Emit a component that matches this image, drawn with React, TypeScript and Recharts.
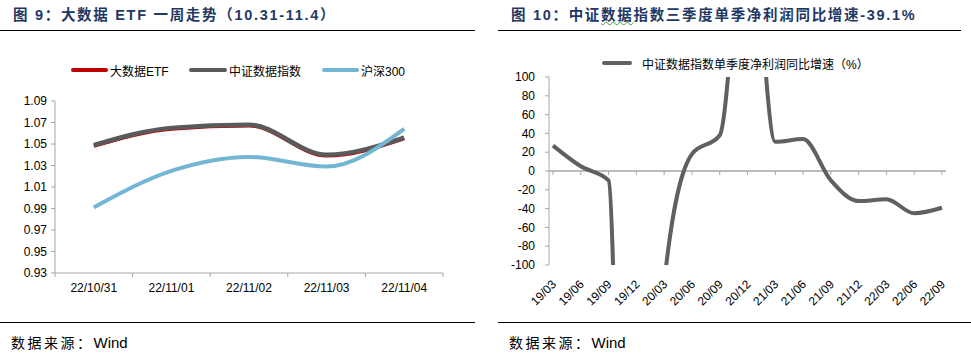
import { LineChart, Line, XAxis, YAxis, ReferenceLine } from 'recharts';

const weekDates = ['22/10/31', '22/11/01', '22/11/02', '22/11/03', '22/11/04'];
const etfValues = [1.048, 1.064, 1.067, 1.039, 1.055];
const indexValues = [1.049, 1.065, 1.068, 1.04, 1.056];
const hs300Values = [0.991, 1.025, 1.038, 1.029, 1.064];
const weekTicks = [0.93, 0.95, 0.97, 0.99, 1.01, 1.03, 1.05, 1.07, 1.09];

const quarters = ['19/03', '19/06', '19/09', '19/12', '20/03', '20/06', '20/09', '20/12', '21/03', '21/06', '21/09', '21/12', '22/03', '22/06', '22/09'];
const profitGrowth = [27, 5, -10, -1200, -120, 18, 38, 300, 31, 34, -10, -32, -30, -45, -39.1];
const growthTicks = [-100, -80, -60, -40, -20, 0, 20, 40, 60, 80, 100];

const weekData = weekDates.map((date, i) => ({
  date,
  etf: etfValues[i],
  index: indexValues[i],
  hs300: hs300Values[i],
}));
const growthData = quarters.map((q, i) => ({ q, value: profitGrowth[i] }));

const LATIN = '"Liberation Sans", Arial, "Noto Sans CJK SC", sans-serif';
const AXIS_GREY = '#a6a6a6';
const TITLE_BLUE = '#1f3864';

const LEFT_W = 475;
const LEFT_MARGIN = { top: 101, right: 32, bottom: 17, left: 10 };
const LEFT_YW = 45;
const bandW = (LEFT_W - LEFT_MARGIN.left - LEFT_MARGIN.right - LEFT_YW) / weekDates.length;

// label in the band centre, tick marks on the band edges (excel style)
const BandTick = (props: any) => {
  const { x, y, payload, index } = props;
  const axisY = y - 9;
  const last = index === weekDates.length - 1;
  return (
    <g>
      <line x1={x - bandW / 2} x2={x - bandW / 2} y1={axisY} y2={axisY + 4} stroke={AXIS_GREY} />
      {last && <line x1={x + bandW / 2} x2={x + bandW / 2} y1={axisY} y2={axisY + 4} stroke={AXIS_GREY} />}
      <text x={x} y={y + 1} dy="0.71em" textAnchor="middle" fontSize={12} fontFamily={LATIN} fill="#000">
        {payload.value}
      </text>
    </g>
  );
};

const SlantTick = (props: any) => {
  const { x, y, payload } = props;
  const ax = x + 4;
  const ay = y + 12;
  return (
    <text x={ax} y={ay} transform={`rotate(-45 ${ax} ${ay})`} textAnchor="end" fontSize={12} fontFamily={LATIN} fill="#000">
      {payload.value}
    </text>
  );
};

const LegendItem = ({ color, label, len, gap, left, top }: { color: string; label: string; len: number; gap: number; left: number; top: number }) => (
  <div style={{ position: 'absolute', left, top, display: 'flex', alignItems: 'center', height: 14 }}>
    <div style={{ width: len, height: 4, background: color, borderRadius: 2, marginRight: gap }} />
    <span style={{ fontSize: 12, fontFamily: LATIN, color: '#000', whiteSpace: 'nowrap' }}>{label}</span>
  </div>
);

const titleStyle = {
  position: 'absolute' as const,
  top: 7,
  fontSize: 14.5,
  lineHeight: '16px',
  fontWeight: 'bold' as const,
  letterSpacing: 1.7,
  color: TITLE_BLUE,
  fontFamily: LATIN,
  whiteSpace: 'nowrap' as const,
};

const sourceStyle = {
  position: 'absolute' as const,
  top: 335,
  fontSize: 14,
  lineHeight: '16px',
  color: '#000',
  fontFamily: LATIN,
  whiteSpace: 'nowrap' as const,
};

const Source = ({ left }: { left: number }) => (
  <div style={{ ...sourceStyle, left }}>
    <span style={{ letterSpacing: 2.5 }}>数据来源：</span>
    <span style={{ fontSize: 15 }}>Wind</span>
  </div>
);

export default function App() {
  return (
    <div style={{ position: 'absolute', left: 0, top: 0, width: 971, height: 358, background: '#fff', overflow: 'hidden' }}>
      <div style={{ ...titleStyle, left: 13 }}>图 9：大数据 ETF 一周走势（10.31-11.4）</div>
      <div style={{ ...titleStyle, left: 511 }}>
        图 10：中证<span style={{ textDecoration: 'underline wavy #3c9a3c', textDecorationThickness: 1 }}>数据</span>指数三季度单季净利润同比增速-39.1%
      </div>
      <div style={{ position: 'absolute', left: 0, top: 30, width: 475, height: 1, background: '#000' }} />
      <div style={{ position: 'absolute', left: 498, top: 30, width: 463, height: 1, background: '#000' }} />

      <LegendItem color="#c00000" label="大数据ETF" len={37} gap={2} left={71} top={63} />
      <LegendItem color="#5a5a5a" label="中证数据指数" len={38} gap={2} left={189} top={63} />
      <LegendItem color="#72b6d3" label="沪深300" len={37} gap={2} left={322} top={63} />
      <LegendItem color="#606060" label="中证数据指数单季度净利润同比增速（%）" len={30} gap={10} left={602} top={56} />

      <div style={{ position: 'absolute', left: 0, top: 0 }}>
        <LineChart width={LEFT_W} height={320} data={weekData} margin={LEFT_MARGIN}>
          <XAxis
            dataKey="date"
            scale="band"
            height={30}
            tickLine={false}
            tickSize={4}
            tickMargin={5}
            stroke={AXIS_GREY}
            tick={<BandTick />}
            interval={0}
          />
          <YAxis
            width={LEFT_YW}
            domain={[0.93, 1.09]}
            ticks={weekTicks}
            interval={0}
            tickFormatter={(v: number) => v.toFixed(2)}
            tickSize={4}
            tickMargin={4}
            stroke={AXIS_GREY}
            tick={{ fontSize: 12, fontFamily: LATIN, fill: '#000' }}
          />
          <Line type="monotone" dataKey="etf" stroke="#c00000" strokeWidth={3.5} dot={false} isAnimationActive={false} />
          <Line type="monotone" dataKey="index" stroke="#5a5a5a" strokeWidth={4.5} dot={false} isAnimationActive={false} />
          <Line type="monotone" dataKey="hs300" stroke="#72b6d3" strokeWidth={4} dot={false} isAnimationActive={false} />
        </LineChart>
      </div>

      <div style={{ position: 'absolute', left: 485, top: 0 }}>
        <LineChart width={486} height={320} data={growthData} margin={{ top: 77, right: 25, bottom: 10, left: 14 }}>
          <XAxis
            dataKey="q"
            height={45}
            axisLine={false}
            tickLine={false}
            tickSize={6}
            tickMargin={2}
            interval={0}
            padding={{ left: 4, right: 4 }}
            tick={<SlantTick />}
          />
          <YAxis
            width={50}
            domain={[-100, 100]}
            ticks={growthTicks}
            interval={0}
            allowDataOverflow
            tickSize={4}
            tickMargin={10}
            stroke={AXIS_GREY}
            tick={{ fontSize: 12, fontFamily: LATIN, fill: '#000' }}
          />
          <ReferenceLine y={0} stroke={AXIS_GREY} strokeWidth={1.5} />
          {quarters.map((q) => (
            <ReferenceLine key={q} segment={[{ x: q, y: 0 }, { x: q, y: -4.3 }]} stroke={AXIS_GREY} />
          ))}
          <Line type="monotone" dataKey="value" stroke="#606060" strokeWidth={4} dot={false} isAnimationActive={false} />
        </LineChart>
      </div>

      <div style={{ position: 'absolute', left: 0, top: 322, width: 475, height: 1, background: '#000' }} />
      <div style={{ position: 'absolute', left: 498, top: 322, width: 473, height: 1, background: '#000' }} />
      <Source left={11} />
      <Source left={509} />
    </div>
  );
}
